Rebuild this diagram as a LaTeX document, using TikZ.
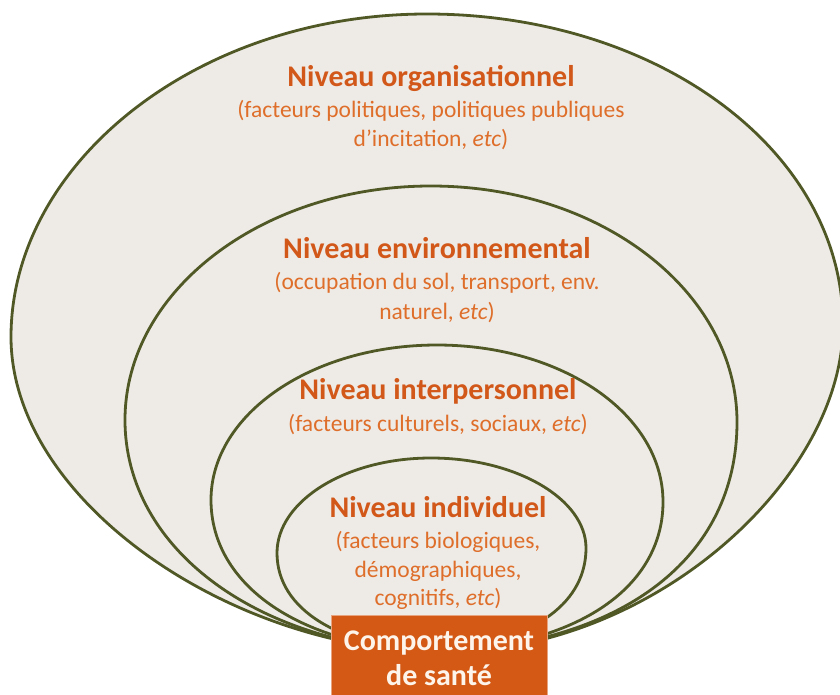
\documentclass[tikz,border=0pt]{standalone}
\usepackage{fontspec}
\setmainfont{Carlito}
\definecolor{fillc}{HTML}{EEEBE6}
\definecolor{linec}{HTML}{505826}
\definecolor{titlec}{HTML}{D2581A}
\definecolor{subc}{HTML}{DE6E2A}
\definecolor{boxc}{HTML}{D45915}
\definecolor{boxtxt}{HTML}{FDF5EC}
\begin{document}
\begin{tikzpicture}[x=1pt,y=-1pt]
\tikzset{
  level/.style={draw=linec, fill=fillc, line width=2.8pt},
  ttl/.style={text=titlec, font=\fontsize{30}{34}\selectfont\bfseries, inner sep=0pt, anchor=base},
  sub/.style={text=subc, font=\fontsize{23.5}{29}\selectfont, inner sep=0pt, anchor=base},
  boxn/.style={fill=boxc, draw=boxc!55!white, line width=0.6pt, inner sep=0pt, minimum width=216pt, minimum height=84pt, anchor=north west},
  boxl/.style={text=boxtxt, font=\fontsize{30}{35}\selectfont\bfseries, inner sep=0pt, anchor=base}
}
\useasboundingbox (0,0) rectangle (840,695);
\coordinate (B) at (439,652);
% outer
\path[level] (B) .. controls (230,650) and (11,500) .. (11,337)
  .. controls (11,163) and (197,14) .. (427,14)
  .. controls (657,14) and (843,150) .. (843,325)
  .. controls (843,480) and (650,655) .. (B) -- cycle;
% environmental
\path[level] (B) .. controls (260,648) and (125,550) .. (125,420)
  .. controls (125,291) and (262,186) .. (431,186)
  .. controls (600,186) and (737,291) .. (737,422)
  .. controls (737,560) and (620,645) .. (B) -- cycle;
% interpersonal
\path[level] (B) .. controls (300,648) and (211,585) .. (211,500)
  .. controls (211,414) and (312,345) .. (437,345)
  .. controls (562,345) and (663,414) .. (663,502)
  .. controls (663,580) and (590,645) .. (B) -- cycle;
% individual
\path[level] (B) .. controls (340,648) and (277,610) .. (277,553)
  .. controls (277,501) and (346,458) .. (431,458)
  .. controls (516,458) and (586,499) .. (586,548)
  .. controls (586,600) and (540,640) .. (B) -- cycle;

\node[ttl] (t1) at (431,87) {Niveau organisationnel};
\node[sub] (s1a) at (431,118) {(facteurs politiques, politiques publiques};
\node[sub] (s1b) at (431,147) {d’incitation, \textit{etc})};
\node[ttl] (t2) at (437,258) {Niveau environnemental};
\node[sub] (s2a) at (437,289) {(occupation du sol, transport, env.};
\node[sub] (s2b) at (437,319) {naturel, \textit{etc})};
\node[ttl] (t3) at (438,399) {Niveau interpersonnel};
\node[sub] (s3a) at (438,431) {(facteurs culturels, sociaux, \textit{etc})};
\node[ttl] (t4) at (438,517) {Niveau individuel};
\node[sub] (s4a) at (438,548) {(facteurs biologiques,};
\node[sub] (s4b) at (438,577) {démographiques,};
\node[sub] (s4c) at (438,605) {cognitifs, \textit{etc})};

\node[boxn] (box) at (331,615) {};
\node[boxl] (b1) at (439,650) {Comportement};
\node[boxl] (b2) at (439,685) {de santé};
\end{tikzpicture}
\end{document}
